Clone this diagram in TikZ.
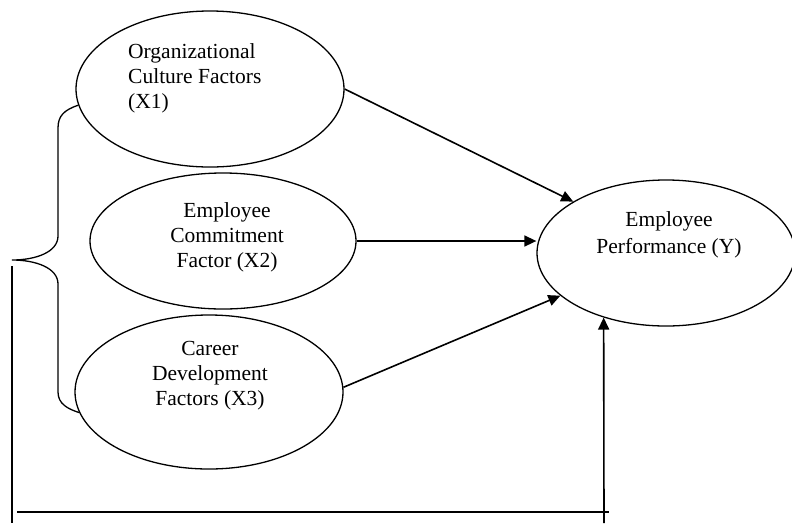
\documentclass[tikz,border=0pt]{standalone}
\usepackage{fontspec}
\setmainfont{Liberation Serif}
\usetikzlibrary{shapes.geometric,arrows.meta}

\begin{document}
\begin{tikzpicture}[x=1pt, y=-1pt,
	factor/.style={ellipse, draw=black, line width=1.3pt, inner sep=0pt},
	caption/.style={inner sep=0pt, font=\fontsize{21.5}{25}\selectfont, align=center},
	link/.style={line width=1.6pt, -{Triangle[length=12pt,width=11pt]}}]
	\useasboundingbox (0,0) rectangle (792,523);

	% the three factors and the outcome
	\node (x1) [factor, minimum width=268pt, minimum height=156pt] at (210,89) {};
	\node (x2) [factor, minimum width=266pt, minimum height=136pt] at (223,241) {};
	\node (x3) [factor, minimum width=268pt, minimum height=154pt] at (209,392) {};
	\node (y) [factor, minimum width=258pt, minimum height=146pt] at (666,253) {};

	\node (x1txt) [caption, align=left, anchor=west] at (128,78)
	{Organizational\\Culture Factors\\(X1)};
	\node (x2txt) [caption] at (227,237) {Employee\\Commitment\\Factor (X2)};
	\node (x3txt) [caption] at (210,376) {Career\\Development\\Factors (X3)};
	\node (ytxt) [caption, font=\fontsize{21.5}{27}\selectfont] at (669,235)
	{Employee\\Performance (Y)};

	% partial effects
	\draw[link] (x1.east) -- (y.151);
	\draw[link] (x2.east) -- (x2.east -| y.west);
	\draw[link] (x3.2) -- (y.202);

	% brace grouping X1..X3
	\coordinate (tip) at (12,260);
	\draw[line width=1.3pt] (x1.187) .. controls (64,110) and (58,116) .. (58,128)
		-- (58,236) .. controls (58,252) and (36,260) .. (tip)
		.. controls (36,260) and (58,268) .. (58,284)
		-- (58,392) .. controls (58,404) and (68,409) .. (x3.189);

	% simultaneous effect
	\coordinate (lt) at (12,266);
	\coordinate (lb) at (12,523);
	\coordinate (hl) at (17,512);
	\coordinate (hr) at (609,512);
	\coordinate (rb) at (604,523);
	\draw[line width=1.6pt] (lt) -- (lb);
	\draw[line width=1.6pt] (hl) -- (hr);
	\draw[link] (rb) -- (y.226);
\end{tikzpicture}
\end{document}
